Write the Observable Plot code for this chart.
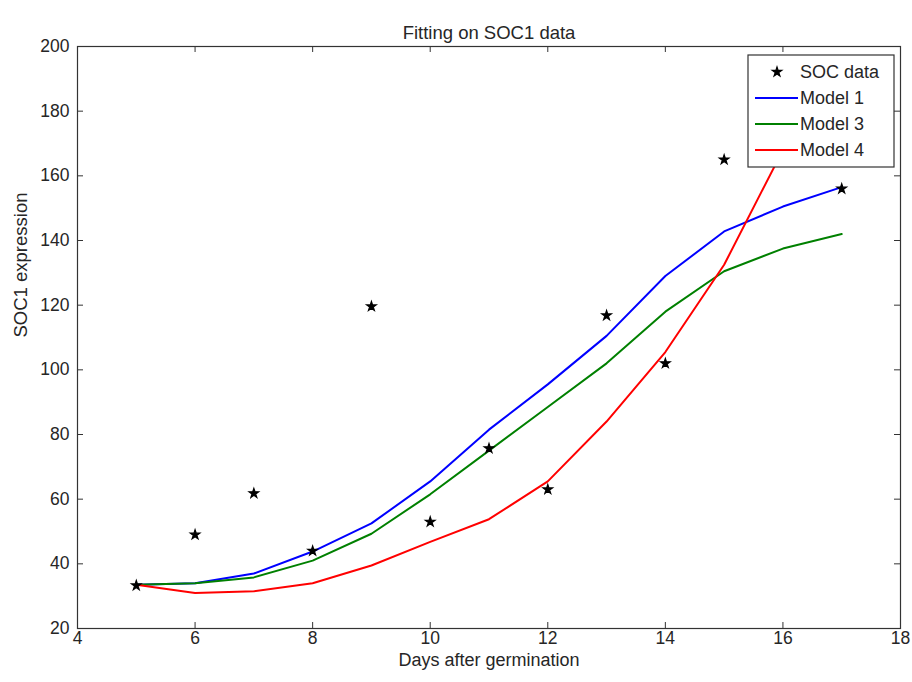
<!DOCTYPE html>
<html>
<head>
<meta charset="utf-8">
<script src="https://cdn.jsdelivr.net/npm/d3@7"></script>
<script src="https://cdn.jsdelivr.net/npm/@observablehq/plot@0.6"></script>
<style>
  html, body { margin: 0; padding: 0; background: #fff; }
  #wrap { position: relative; width: 912px; height: 682px; }
  #legend { position: absolute; left: 0; top: 0; pointer-events: none; }
</style>
</head>
<body>
<div id="wrap"></div>
<script>
const days = [5, 6, 7, 8, 9, 10, 11, 12, 13, 14, 15, 16, 17];
const socDays = [5, 6, 7, 8, 9, 10, 11, 12, 13, 14, 15, 17];
const socData = [33.3, 49, 61.8, 44, 119.6, 53, 75.7, 63, 116.8, 102, 165, 156];
const model1 = [33.5, 34, 37, 43.8, 52.5, 65.5, 81.5, 95.5, 110.5, 129, 142.8, 150.5, 156.5];
const model3 = [33.5, 34, 35.8, 41, 49.3, 61.5, 75, 88.5, 102, 118, 130.5, 137.5, 142];
const model4 = [33.5, 31, 31.5, 34, 39.5, 46.8, 53.8, 65.5, 84, 105.5, 132.5, 168, 188];
const xTicks = [4, 6, 8, 10, 12, 14, 16, 18];
const yTicks = [20, 40, 60, 80, 100, 120, 140, 160, 180, 200];
const seriesNames = ["Model 1", "Model 3", "Model 4"];
const seriesColors = ["#0000ff", "#008000", "#ff0000"];

const W = 912, H = 682;
const mL = 77, mR = 12, mT = 46, mB = 54;
const frameH = H - mT - mB, frameW = W - mL - mR;
const font = "'Liberation Sans', Arial, sans-serif";
const ink = "#262626";

const lines = [];
[model1, model3, model4].forEach((arr, i) => {
  days.forEach((d, j) => lines.push({series: seriesNames[i], x: d, y: arr[j]}));
});
const pts = socDays.map((d, i) => ({x: d, y: socData[i]}));

const chart = Plot.plot({
  width: W, height: H,
  marginLeft: mL, marginRight: mR, marginTop: mT, marginBottom: mB,
  style: {fontFamily: font, fontSize: "17px", color: ink, background: "#fff", overflow: "visible"},
  x: {domain: [4, 18], ticks: xTicks},
  y: {domain: [20, 200], ticks: yTicks},
  color: {domain: seriesNames, range: seriesColors},
  marks: [
    Plot.line(lines, {x: "x", y: "y", z: "series", stroke: "series", strokeWidth: 2, clip: true}),
    Plot.dot(pts, {x: "x", y: "y", symbol: "star", r: 3, fill: "black", stroke: "black", strokeWidth: 1.2}),
    // inward tick marks on all four sides
    Plot.ruleX(xTicks, {x: d => d, insetTop: frameH - 6, stroke: "#333"}),
    Plot.ruleX(xTicks, {x: d => d, insetBottom: frameH - 6, stroke: "#333"}),
    Plot.ruleY(yTicks, {y: d => d, insetRight: frameW - 6, stroke: "#333"}),
    Plot.ruleY(yTicks, {y: d => d, insetLeft: frameW - 6, stroke: "#333"}),
    Plot.axisX({ticks: xTicks, tickSize: 0, tickPadding: 3, fontSize: 17.5, label: null, tickFormat: d => String(d)}),
    Plot.axisY({ticks: yTicks, tickSize: 0, tickPadding: 8, fontSize: 17.5, label: null, tickFormat: d => String(d)}),
    Plot.frame({stroke: "#333", strokeWidth: 1.2}),
    Plot.text(["Fitting on SOC1 data"], {frameAnchor: "top", dy: -21, fontSize: 18.5, fill: ink}),
    Plot.text(["Days after germination"], {frameAnchor: "bottom", dy: 37, fontSize: 18, fill: ink}),
    Plot.text(["SOC1 expression"], {frameAnchor: "left", dx: -56, rotate: -90, fontSize: 18.5, fill: ink})
  ]
});
document.getElementById("wrap").appendChild(chart);

// Legend drawn over the plot area, in MATLAB style (top right, boxed)
const lg = d3.select("#wrap").append("svg")
  .attr("id", "legend").attr("width", W).attr("height", H)
  .style("font-family", font).style("font-size", "18px");
const bx = 748, by = 55, bw = 146, bh = 112;
lg.append("rect").attr("x", bx).attr("y", by).attr("width", bw).attr("height", bh)
  .attr("fill", "#fff").attr("stroke", "#333").attr("stroke-width", 1.2);
const entries = [{name: "SOC data", type: "dot"}].concat(seriesNames.map((n, i) => ({name: n, type: "line", color: seriesColors[i]})));
entries.forEach((e, i) => {
  const cy = 72 + i * 26;
  if (e.type === "dot") {
    lg.append("path").attr("d", d3.symbol(d3.symbolStar, 28)())
      .attr("transform", `translate(777,${cy})`).attr("fill", "black").attr("stroke", "black").attr("stroke-width", 1.2);
  } else {
    lg.append("line").attr("x1", 755).attr("x2", 798).attr("y1", cy).attr("y2", cy)
      .attr("stroke", e.color).attr("stroke-width", 2);
  }
  lg.append("text").attr("x", 800).attr("y", cy).attr("dy", "0.35em").attr("fill", ink).text(e.name);
});
</script>
</body>
</html>
